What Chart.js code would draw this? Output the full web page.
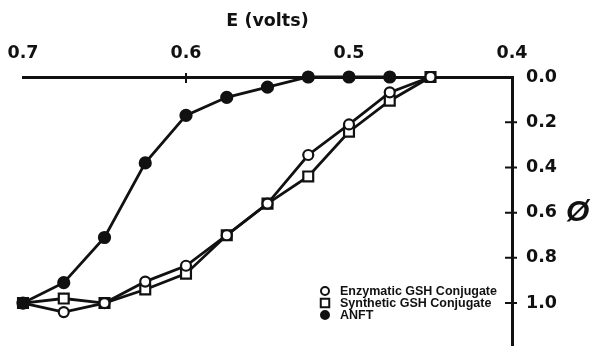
<!DOCTYPE html>
<html lang="en">
<head>
<meta charset="UTF-8" />
<title>Ø vs E (volts)</title>
<script src="https://cdn.jsdelivr.net/npm/chart.js@4.4.1/dist/chart.umd.min.js"></script>
<style>
  body { margin: 0; background: #fff; }
  #wrap { position: relative; width: 593px; height: 346px; }
  #phi { position: absolute; left: 566px; top: 196px; font: italic bold 30px "Liberation Sans", Arial, sans-serif; line-height: 30px; color: #111; }
</style>
</head>
<body>
<div id="wrap">
  <canvas id="c" width="593" height="346"></canvas>
  <div id="phi">Ø</div>
</div>
<script>
// potential steps (volts)
const potentials = [0.7, 0.675, 0.65, 0.625, 0.6, 0.575, 0.55, 0.525, 0.5, 0.475, 0.45];
const enzymatic = [1.0, 1.04, 1.0, 0.905, 0.835, 0.70, 0.56, 0.345, 0.21, 0.068, 0.0];
const synthetic = [1.0, 0.98, 1.0, 0.94, 0.87, 0.70, 0.56, 0.44, 0.242, 0.105, 0.0];
const anft = [1.0, 0.91, 0.71, 0.38, 0.17, 0.09, 0.045, 0.0, 0.0, 0.0];
const seriesNames = ["Enzymatic GSH Conjugate", "Synthetic GSH Conjugate", "ANFT"];
const eTicks = [0.7, 0.6, 0.5, 0.4];
const phiTicks = [0, 0.2, 0.4, 0.6, 0.8, 1.0];

const ink = "#111";
const axisFont = "'DejaVu Sans', sans-serif";
const legendFont = "'Liberation Sans', Arial, sans-serif";

function pts(ys) { return ys.map((y, i) => ({ x: potentials[i], y })); }

// small "+" ticks that cross the axis lines
const crossTicks = {
  id: "crossTicks",
  beforeDatasetsDraw(chart) {
    const { ctx, chartArea, scales } = chart;
    ctx.save();
    ctx.strokeStyle = ink;
    ctx.lineWidth = 2;
    ctx.beginPath();
    [0.6, 0.5].forEach((v) => {
      const x = scales.x.getPixelForValue(v);
      ctx.moveTo(x, chartArea.top - 4);
      ctx.lineTo(x, chartArea.top + 6);
    });
    phiTicks.slice(1).forEach((v) => {
      const y = scales.y.getPixelForValue(v);
      ctx.moveTo(chartArea.right - 7, y);
      ctx.lineTo(chartArea.right + 5, y);
    });
    ctx.stroke();
    ctx.restore();
  },
};

const innerLegend = {
  id: "innerLegend",
  afterDraw(chart) {
    const { ctx } = chart;
    const rows = [291, 303, 315];
    ctx.save();
    ctx.font = "bold 12.5px " + legendFont;
    ctx.textBaseline = "middle";
    // rows: enzymatic, synthetic, anft
    [1, 2, 0].forEach((di, row) => {
      const ds = chart.data.datasets[di];
      ctx.fillStyle = ds.pointBackgroundColor;
      ctx.strokeStyle = ink;
      ctx.lineWidth = 2;
      Chart.helpers.drawPoint(ctx, { pointStyle: ds.pointStyle, radius: ds.pointStyle === "rect" ? 6 : 4, borderWidth: 2, rotation: 0 }, 325, rows[row]);
      ctx.fillStyle = ink;
      ctx.fillText(ds.label, 340, rows[row] + 0.5);
    });
    ctx.restore();
  },
};

const lineStyle = { borderColor: ink, borderWidth: 2.8, pointBorderColor: ink, pointBorderWidth: 2.2, tension: 0, clip: false };
const tickFont = { family: axisFont, size: 17.5, weight: "bold" };

new Chart(document.getElementById("c"), {
  type: "line",
  data: {
    datasets: [
      { ...lineStyle, label: seriesNames[2], data: pts(anft), pointStyle: "circle", pointRadius: 5.5, pointBackgroundColor: ink },
      { ...lineStyle, label: seriesNames[0], data: pts(enzymatic), pointStyle: "circle", pointRadius: 5, pointBackgroundColor: "#fff" },
      { ...lineStyle, label: seriesNames[1], data: pts(synthetic), pointStyle: "rect", pointRadius: 7, pointBackgroundColor: "#fff" },
    ],
  },
  options: {
    responsive: false,
    animation: false,
    layout: { autoPadding: false, padding: { left: 23, right: 0, top: 0, bottom: 0 } },
    plugins: { legend: { display: false }, tooltip: { enabled: false } },
    scales: {
      x: {
        type: "linear",
        position: "top",
        reverse: true,
        min: 0.4,
        max: 0.7,
        afterBuildTicks: (s) => { s.ticks = eTicks.map((v) => ({ value: v })); },
        afterFit: (s) => { s.height = 77; s.paddingLeft = 0; s.paddingRight = 0; },
        grid: { display: false, drawTicks: false },
        border: { display: true, color: ink, width: 3 },
        ticks: { color: ink, padding: 13, font: tickFont, callback: (v) => v.toFixed(1) },
        title: { display: true, text: "E (volts)", color: ink, padding: { top: 11, bottom: 0 }, font: tickFont },
      },
      y: {
        type: "linear",
        position: "right",
        reverse: true,
        min: 0,
        max: 1.19,
        afterBuildTicks: (s) => { s.ticks = phiTicks.map((v) => ({ value: v })); },
        afterFit: (s) => { s.width = 81; s.paddingTop = 0; s.paddingBottom = 0; },
        grid: { display: false, drawTicks: false },
        border: { display: true, color: ink, width: 3 },
        ticks: { color: ink, padding: 14, font: tickFont, callback: (v) => v.toFixed(1) },
      },
    },
  },
  plugins: [crossTicks, innerLegend],
});
</script>
</body>
</html>
